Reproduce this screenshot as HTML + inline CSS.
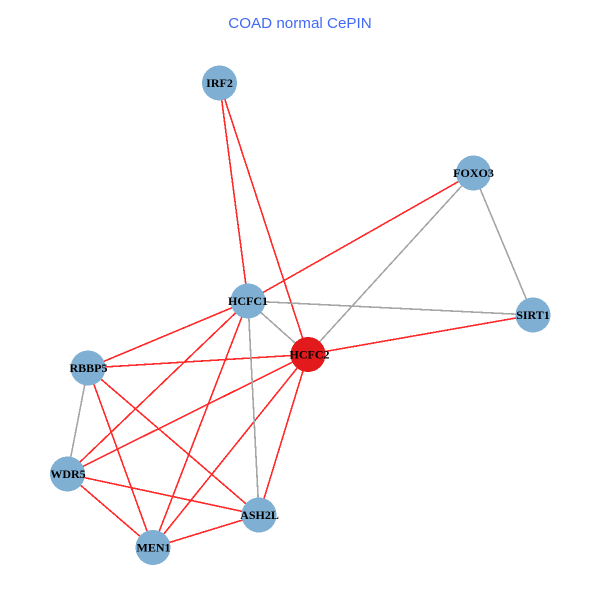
<!DOCTYPE html>
<html><head><meta charset="utf-8"><style>
html,body{margin:0;padding:0;background:#fff;width:600px;height:600px;overflow:hidden}
svg{display:block}
.t{font:bold 12px "Liberation Serif",serif;fill:#000;text-anchor:middle}
</style></head><body>
<svg width="600" height="600" viewBox="0 0 600 600" xmlns="http://www.w3.org/2000/svg">
<rect width="600" height="600" fill="#fff"/>
<text x="300" y="28" font-family="Liberation Sans, sans-serif" font-size="15.2" fill="#4169f5" text-anchor="middle">COAD normal CePIN</text>
<g stroke="#ff2a2a" stroke-width="1.6" fill="none" shape-rendering="crispEdges">
<line x1="219.5" y1="83" x2="248" y2="301"/>
<line x1="219.5" y1="83" x2="308" y2="354.5"/>
<line x1="473.5" y1="173" x2="248" y2="301"/>
<line x1="533" y1="315" x2="308" y2="354.5"/>
<line x1="248" y1="301" x2="88" y2="368"/>
<line x1="248" y1="301" x2="67.5" y2="474"/>
<line x1="248" y1="301" x2="153" y2="547.5"/>
<line x1="308" y1="354.5" x2="88" y2="368"/>
<line x1="308" y1="354.5" x2="67.5" y2="474"/>
<line x1="308" y1="354.5" x2="153" y2="547.5"/>
<line x1="308" y1="354.5" x2="259" y2="515"/>
<line x1="88" y1="368" x2="153" y2="547.5"/>
<line x1="88" y1="368" x2="259" y2="515"/>
<line x1="67.5" y1="474" x2="153" y2="547.5"/>
<line x1="67.5" y1="474" x2="259" y2="515"/>
<line x1="153" y1="547.5" x2="259" y2="515"/>
</g>
<g stroke="#a6a6a6" stroke-width="1.6" fill="none" shape-rendering="crispEdges">
<line x1="473.5" y1="173" x2="308" y2="354.5"/>
<line x1="473.5" y1="173" x2="533" y2="315"/>
<line x1="248" y1="301" x2="533" y2="315"/>
<line x1="248" y1="301" x2="308" y2="354.5"/>
<line x1="248" y1="301" x2="259" y2="515"/>
<line x1="88" y1="368" x2="67.5" y2="474"/>
</g>
<g fill="#7fafd2" shape-rendering="crispEdges">
<circle cx="219.5" cy="83" r="17.5"/>
<circle cx="473.5" cy="173" r="17.5"/>
<circle cx="533" cy="315" r="17.5"/>
<circle cx="248" cy="301" r="17.5"/>
<circle cx="88" cy="368" r="17.5"/>
<circle cx="67.5" cy="474" r="17.5"/>
<circle cx="259" cy="515" r="17.5"/>
<circle cx="153" cy="547.5" r="17.5"/>
</g>
<circle cx="308" cy="354.5" r="17.5" fill="#e31a1c" shape-rendering="crispEdges"/>
<text class="t" x="219.5" y="87">IRF2</text>
<text class="t" x="473.5" y="177">FOXO3</text>
<text class="t" x="533" y="319">SIRT1</text>
<text class="t" x="248" y="305">HCFC1</text>
<text class="t" x="309.5" y="358.5">HCFC2</text>
<text class="t" x="88.5" y="372">RBBP5</text>
<text class="t" x="68" y="478">WDR5</text>
<text class="t" x="259.5" y="519">ASH2L</text>
<text class="t" x="153.5" y="551.5">MEN1</text>
</svg>
</body></html>
